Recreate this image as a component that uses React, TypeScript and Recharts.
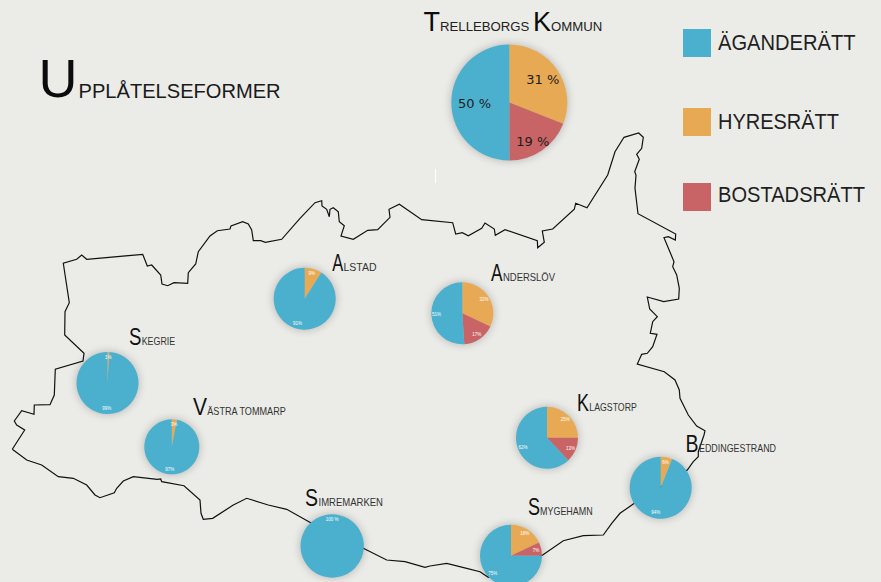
import { Line, LineChart, Pie, PieChart, Cell, XAxis, YAxis } from "recharts"

const WIDTH = 881
const HEIGHT = 582
const BACKGROUND = "#ebece8"

const TENURES = ["ÄGANDERÄTT", "HYRESRÄTT", "BOSTADSRÄTT"]
const TENURE_COLORS = ["#4bb0ce", "#e8a955", "#c96466"]

// share in percent: äganderätt, hyresrätt, bostadsrätt
const TRELLEBORG = [50, 31, 19]
const ALSTAD = [91, 9, 0]
const ANDERSLOV = [51, 32, 17]
const SKEGRIE = [99, 1, 0]
const VASTRA_TOMMARP = [97, 3, 0]
const KLAGSTORP = [62, 25, 13]
const BEDDINGESTRAND = [94, 6, 0]
const SMYGEHAMN = [75, 18, 7]
const SIMREMARKEN = [100, 0, 0]

// municipality border in map coordinates
const BORDER: [number, number][] = [
  [12.3, 449.3], [24.7, 430], [16.7, 425], [14.3, 421], [21.7, 410.7], [34, 414.3], [34.3, 405], [50, 404.7],
  [54.3, 395], [54.5, 390], [55.3, 369.3], [83, 361], [84, 353.3], [64.7, 335], [65, 311.7], [69.3, 302.7],
  [63.3, 263.3], [76.7, 259.3], [81.7, 255], [86.7, 259.3], [142.7, 254.3], [147.3, 266], [151.7, 265],
  [160.7, 275], [162, 284], [167.7, 285.7], [174, 282.7], [187.7, 283.3], [188.3, 272.7], [195.7, 264],
  [198.3, 251.7], [210, 236], [217.3, 230.7], [230, 229], [231, 226], [242.7, 221.7], [248.3, 224],
  [251.7, 230], [253.3, 240.7], [260.7, 240.7], [265.3, 242.3], [281.7, 239.3], [300, 218.3], [315, 202.7],
  [321.7, 200.7], [322, 206], [326.7, 209.3], [329.3, 216.7], [330, 209.3], [333.3, 207.7], [338.3, 211.7],
  [339.3, 221.7], [344.3, 225.7], [341, 236], [353.3, 239.3], [367.7, 230.3], [377.7, 229.7], [390, 217.3],
  [389, 209.3], [399.3, 204.3], [421.7, 219.7], [452.7, 222.7], [455.7, 234], [462.3, 232.7], [468.3, 235.7],
  [481.7, 228.3], [485, 223], [494.3, 229], [495.3, 235.3], [505, 229.7], [537.3, 240.7], [537.7, 247.7],
  [544.3, 242.3], [542.3, 231], [552.7, 229], [574.3, 209.3], [575.7, 203.3], [587, 207.7], [607.7, 175],
  [615, 151.7], [624, 137.3], [638.7, 133], [643.3, 137.3], [641.7, 148.3], [636.7, 154.3], [639.3, 159.3],
  [634.7, 171.7], [636, 175], [635, 188.3], [638, 213.7], [675.7, 234], [675.3, 240], [668.3, 236.7],
  [664, 237.7], [674, 261.7], [672.7, 266.7], [676.7, 275], [679.3, 288.3], [678.7, 299], [663.7, 301.7],
  [647.3, 297], [649.7, 309], [657.3, 316.7], [652.7, 321.7], [650.3, 333.3], [657, 334.3], [652.7, 346.7],
  [647.3, 353.3], [641.7, 354.3], [637.3, 364], [664.3, 371.7], [675, 380], [679.3, 390], [680, 398.3],
  [688.3, 415], [696.7, 426], [705, 430.7], [704, 435], [698.3, 451.7], [698.3, 456.7], [693.3, 461.7],
  [687.3, 470], [633.3, 504], [620, 513.3], [611.7, 523.3], [603.3, 535], [583.3, 535.7], [563.3, 540.7],
  [542.7, 555], [488.3, 577.3], [480, 571.7], [466.7, 568.3], [446.7, 563.3], [430, 566], [425, 567.3],
  [405, 561.7], [386.7, 560], [363.3, 548.3], [310.7, 522.7], [286.7, 509.3], [268.3, 505], [246.7, 498.3],
  [233.3, 505], [212.7, 518.3], [203.3, 519.3], [201, 513.3], [200, 500], [184, 485.7], [161.7, 481.7],
  [160.7, 479], [157.3, 479.3], [133.3, 476.7], [123.3, 481], [116.7, 488.3], [114.3, 492.7], [100, 497.7],
  [95, 495], [86.7, 485], [73.3, 478.3], [58.3, 476.7], [41.7, 465], [26.7, 460], [12.3, 449.3],
]

const borderData = BORDER.map(([x, y]) => ({ x, y }))

const PIES = [
  { values: ALSTAD, cx: 304.7, cy: 298.7, r: 31 },
  { values: ANDERSLOV, cx: 462.3, cy: 313.3, r: 31 },
  { values: SKEGRIE, cx: 107.5, cy: 383, r: 31 },
  { values: VASTRA_TOMMARP, cx: 171.8, cy: 446.8, r: 27.5 },
  { values: KLAGSTORP, cx: 547, cy: 437.8, r: 31 },
  { values: BEDDINGESTRAND, cx: 660.7, cy: 487.7, r: 31 },
  { values: SMYGEHAMN, cx: 511, cy: 555.7, r: 31 },
  { values: SIMREMARKEN, cx: 332.2, cy: 546, r: 31.7, start: 270 },
]

// x0/w0 = big letter, x1/w1 = the rest, y = baseline
const PLACE_LABELS = [
  { first: "A", rest: "LSTAD", x0: 332.3, w0: 11, x1: 343.5, w1: 33, y: 271 },
  { first: "A", rest: "NDERSLÖV", x0: 491, w0: 11.5, x1: 503, w1: 52, y: 281 },
  { first: "S", rest: "KEGRIE", x0: 129, w0: 12.4, x1: 141.7, w1: 33.5, y: 345 },
  { first: "V", rest: "ÄSTRA TOMMARP", x0: 193, w0: 14, x1: 207.3, w1: 78.5, y: 415 },
  { first: "S", rest: "IMREMARKEN", x0: 305, w0: 13, x1: 318.5, w1: 64.5, y: 505.7 },
  { first: "K", rest: "LAGSTORP", x0: 577, w0: 12, x1: 589.3, w1: 47.5, y: 410.7 },
  { first: "S", rest: "MYGEHAMN", x0: 528, w0: 12, x1: 540, w1: 52.7, y: 515 },
  { first: "B", rest: "EDDINGESTRAND", x0: 685.5, w0: 13, x1: 699, w1: 77, y: 452 },
]

const BIG_LETTER_SIZE = 24
const BIG_LETTER_WIDTH = 16

// hand nudges for the three large labels, by value
const BIG_LABEL_NUDGE: Record<number, [number, number]> = {
  31: [-1, 0],
  19: [0, 4],
  50: [7, 1],
}

const toSlices = (values: number[]) =>
  [1, 2, 0]
    .map((i) => ({ name: TENURES[i], value: values[i], color: TENURE_COLORS[i] }))
    .filter((s) => s.value > 0)

const RADIAN = Math.PI / 180

function smallLabel(p: any) {
  const r = p.outerRadius * 0.83
  const x = p.cx + r * Math.cos(-p.midAngle * RADIAN)
  const y = p.cy + r * Math.sin(-p.midAngle * RADIAN)
  return (
    <text x={x} y={y} fill="#ffffff" fontSize={4.5} fontFamily="Liberation Sans" textAnchor="middle" dominantBaseline="central">
      {p.value === 100 ? "100 %" : `${p.value}%`}
    </text>
  )
}

function bigLabel(p: any) {
  const r = p.outerRadius * 0.72
  const [dx, dy] = BIG_LABEL_NUDGE[p.value] ?? [0, 0]
  const x = p.cx + r * Math.cos(-p.midAngle * RADIAN) + dx
  const y = p.cy + r * Math.sin(-p.midAngle * RADIAN) + dy
  return (
    <text x={x} y={y} fill="#1c1c1c" fontSize={13} fontFamily="DejaVu Sans" textAnchor="middle" dominantBaseline="central">
      {`${p.value} %`}
    </text>
  )
}

const layer = { position: "absolute", left: 0, top: 0 } as const

export default function App() {
  return (
    <div style={{ position: "absolute", left: 0, top: 0, width: WIDTH, height: HEIGHT, overflow: "hidden", background: BACKGROUND }}>
      <style>{`body{margin:0;background:${BACKGROUND}} .recharts-pie{filter:drop-shadow(0 0 4px rgba(0,0,0,.24))}`}</style>

      <div style={layer}>
        <LineChart width={WIDTH} height={HEIGHT} data={borderData} margin={{ top: 0, right: 0, bottom: 0, left: 0 }}>
          <XAxis type="number" dataKey="x" domain={[0, WIDTH]} hide />
          <YAxis type="number" domain={[0, HEIGHT]} reversed hide />
          <Line dataKey="y" stroke="#111111" strokeWidth={1.2} dot={false} isAnimationActive={false} />
        </LineChart>
      </div>

      <div style={layer}>
        <PieChart width={WIDTH} height={HEIGHT} margin={{ top: 0, right: 0, bottom: 0, left: 0 }}>
          <Pie
            data={toSlices(TRELLEBORG)}
            dataKey="value"
            cx={509.3}
            cy={102.5}
            outerRadius={58}
            startAngle={90}
            endAngle={-270}
            stroke="none"
            label={bigLabel}
            labelLine={false}
            isAnimationActive={false}
          >
            {toSlices(TRELLEBORG).map((s) => (
              <Cell key={s.name} fill={s.color} />
            ))}
          </Pie>
          {PIES.map((p, i) => {
            const slices = toSlices(p.values)
            const start = p.start ?? 90
            return (
              <Pie
                key={i}
                data={slices}
                dataKey="value"
                cx={p.cx}
                cy={p.cy}
                outerRadius={p.r}
                startAngle={start}
                endAngle={start - 360}
                stroke="none"
                label={smallLabel}
                labelLine={false}
                isAnimationActive={false}
              >
                {slices.map((s) => (
                  <Cell key={s.name} fill={s.color} />
                ))}
              </Pie>
            )
          })}
        </PieChart>
      </div>

      <svg width={WIDTH} height={HEIGHT} style={layer} fontFamily="Liberation Sans">
        <text x={38.4} y={96.5} fontSize={54} fill="#0c0c0c">U</text>
        <text x={78.5} y={97.5} fontSize={20.1} fill="#1a1a1a">PPLÅTELSEFORMER</text>

        <text x={423.5} y={30.5} fill="#0c0c0c">
          <tspan fontSize={27}>T</tspan>
          <tspan fontSize={13.2} fill="#222222">RELLEBORGS </tspan>
          <tspan fontSize={27}>K</tspan>
          <tspan fontSize={13.2} fill="#222222">OMMUN</tspan>
        </text>

        {PLACE_LABELS.map((l) => (
          <g key={l.first + l.rest}>
            <text
              transform={`translate(${l.x0} ${l.y}) scale(${l.w0 / BIG_LETTER_WIDTH} 1)`}
              fontSize={BIG_LETTER_SIZE}
              fill="#111111"
            >
              {l.first}
            </text>
            <text x={l.x1} y={l.y} fontSize={10.2} fill="#333333" textLength={l.w1} lengthAdjust="spacingAndGlyphs">
              {l.rest}
            </text>
          </g>
        ))}

        {TENURES.map((name, i) => (
          <g key={name}>
            <rect x={683} y={[29, 108, 183][i]} width={28} height={28} fill={TENURE_COLORS[i]} />
            <text x={718} y={[50, 129, 202.3][i]} fontSize={21.5} fill="#1f1f1f" textLength={[137.5, 121, 147][i]} lengthAdjust="spacingAndGlyphs">
              {name}
            </text>
          </g>
        ))}

        <line x1={435.5} y1={169} x2={435.5} y2={183} stroke="#ffffff" strokeWidth={1} />
      </svg>
    </div>
  )
}
